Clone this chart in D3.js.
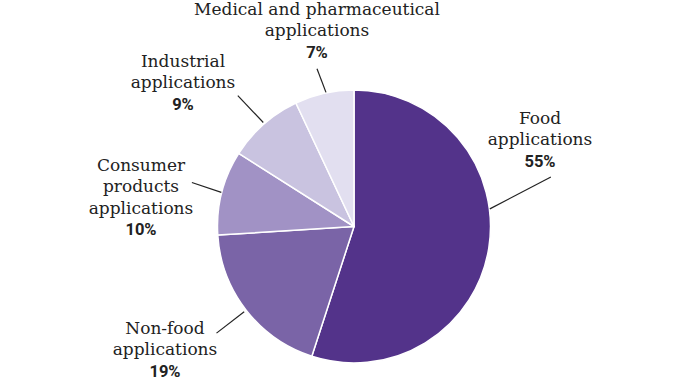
<!DOCTYPE html>
<html>
<head>
<meta charset="utf-8">
<script src="https://cdn.jsdelivr.net/npm/d3@7"></script>
<style>
  html, body { margin: 0; padding: 0; background: #ffffff; }
  svg { display: block; }
</style>
</head>
<body>
<svg id="chart" width="680" height="380"></svg>
<script>
// ---- data ----
const categories = ["Food", "Non-food", "Consumer", "Industrial", "Medical"];
const labelLines = [
  ["Food", "applications"],
  ["Non-food", "applications"],
  ["Consumer", "products", "applications"],
  ["Industrial", "applications"],
  ["Medical and pharmaceutical", "applications"]
];
const shares = [55, 19, 10, 9, 7];
const colors = ["#53338a", "#7a64a7", "#a192c5", "#c9c3e0", "#e2dff0"];

// ---- layout (not data) ----
const W = 680, H = 380;
const cx = 354, cy = 226.5, R = 136.5;
// label block: centre x, first baseline y ; leader: angle offsets (deg) and radii
const labelPos = [
  { x: 540, y: 124, da1: -16.4, da2: -23.1, r1: 137, r2: 203 },
  { x: 165, y: 334, da1: 0, da2: 0, r1: 139, r2: 174 },
  { x: 141, y: 171, da1: 0, da2: 0.8, r1: 137, r2: 168 },
  { x: 183, y: 67,  da1: 0.3, da2: -0.2, r1: 138, r2: 175 },
  { x: 317, y: 15,  da1: 0.8, da2: -0.6, r1: 137, r2: 162 }
];
const lineH = 21.4;

const svg = d3.select("#chart");
const g = svg.append("g").attr("transform", `translate(${cx},${cy})`);

const pie = d3.pie().sort(null).value(d => d);
const arcs = pie(shares);
const arc = d3.arc().innerRadius(0).outerRadius(R);

g.selectAll("path.slice")
  .data(arcs)
  .join("path")
  .attr("class", "slice")
  .attr("d", arc)
  .attr("fill", (d, i) => colors[i])
  .attr("stroke", "#ffffff")
  .attr("stroke-width", 1.5)
  .attr("stroke-linejoin", "round");

const toRad = a => a * Math.PI / 180;
function pt(angle, r) {
  return [Math.sin(angle) * r, -Math.cos(angle) * r];
}

g.selectAll("line.leader")
  .data(arcs)
  .join("line")
  .attr("class", "leader")
  .each(function (d, i) {
    const mid = (d.startAngle + d.endAngle) / 2;
    const L = labelPos[i];
    const p1 = pt(mid + toRad(L.da1), L.r1);
    const p2 = pt(mid + toRad(L.da2), L.r2);
    d3.select(this)
      .attr("x1", p1[0]).attr("y1", p1[1])
      .attr("x2", p2[0]).attr("y2", p2[1]);
  })
  .attr("stroke", "#222222")
  .attr("stroke-width", 1.2);

const lab = svg.selectAll("g.label")
  .data(arcs)
  .join("g")
  .attr("class", "label");

lab.each(function (d, i) {
  const L = labelPos[i];
  const t = d3.select(this).append("text")
    .attr("text-anchor", "middle")
    .attr("fill", "#222222");
  labelLines[i].forEach((s, k) => {
    t.append("tspan")
      .attr("x", L.x)
      .attr("y", L.y + k * lineH)
      .attr("font-family", "'Roboto Slab', 'DejaVu Serif', serif")
      .attr("font-size", 17)
      .text(s);
  });
  t.append("tspan")
    .attr("x", L.x)
    .attr("y", L.y + labelLines[i].length * lineH)
    .attr("font-family", "Roboto, 'Noto Sans', sans-serif")
    .attr("font-weight", 700)
    .attr("font-size", 16.5)
    .text(shares[i] + "%");
});
</script>
</body>
</html>
